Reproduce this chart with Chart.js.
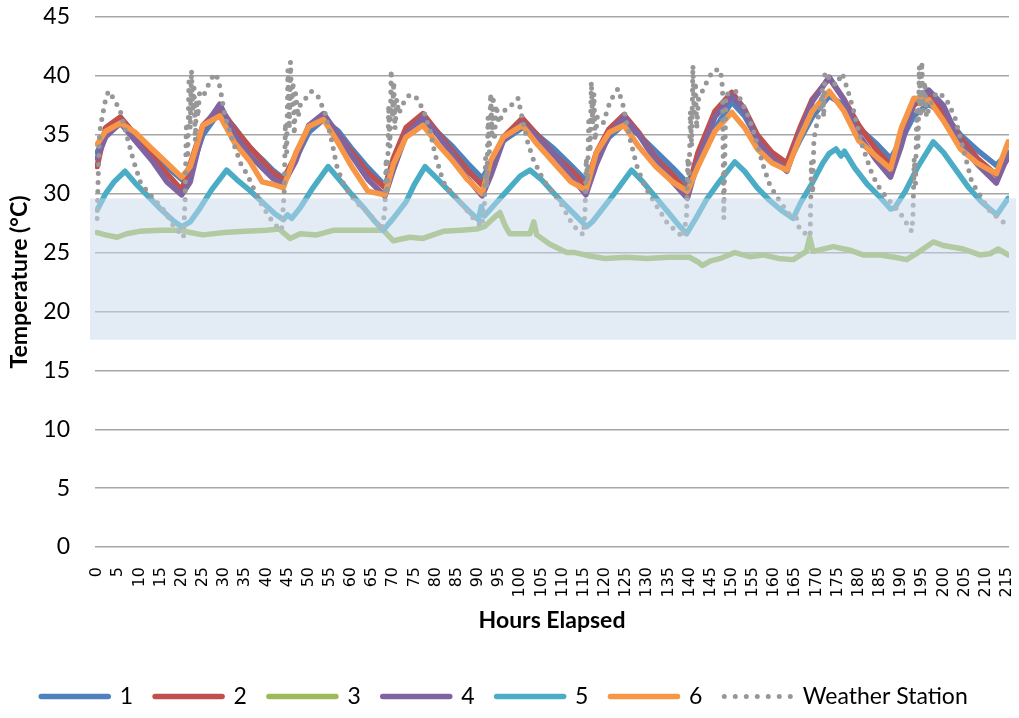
<!DOCTYPE html>
<html>
<head>
<meta charset="utf-8">
<script src="https://cdn.jsdelivr.net/npm/chart.js@4.4.0/dist/chart.umd.min.js"></script>
<style>
  html, body { margin: 0; padding: 0; background: #fff; }
</style>
</head>
<body>
<canvas id="tempChart" width="1019" height="718"></canvas>
<script>
// hours elapsed for sensors 1, 2, 4 and 6 (read at peaks, troughs and in between)
const hoursMain = [0, 2, 5.5, 9, 13, 16.5, 20, 22, 25, 29,
  32.5, 36, 39, 41.5, 44, 47, 50, 53.5, 57, 60,
  64, 68, 70, 73, 77, 80.5, 84, 87.5, 91, 93,
  96, 100.5, 104, 108, 112, 115.5, 118, 121, 124.5, 128,
  132, 136, 139.5, 142, 146, 150, 153, 156, 159.5, 163,
  166, 169, 173, 176.5, 180, 184, 187.5, 190, 193, 196.5,
  200, 204, 208, 212.5, 215.3];

const sensor1 = [33.5, 35.0, 36.0, 35.0, 33.6, 32.3, 31.2, 31.8, 35.0, 37.0,
  35.6, 33.9, 32.9, 32.0, 31.3, 33.0, 35.2, 36.3, 35.3, 33.9,
  32.2, 30.7, 32.4, 35.0, 36.3, 35.2, 34.0, 32.6, 31.3, 32.5,
  34.5, 35.6, 35.0, 33.8, 32.4, 31.1, 33.0, 34.8, 35.9, 35.0,
  33.6, 32.2, 30.9, 32.5, 35.5, 37.8, 36.6, 34.7, 33.4, 32.3,
  34.5, 36.5, 38.3, 37.5, 35.6, 34.3, 33.0, 34.5, 36.6, 37.6,
  36.8, 35.0, 33.7, 32.4, 33.5];

const sensor2 = [32.3, 35.6, 36.5, 35.0, 33.2, 31.7, 30.3, 32.5, 35.8, 37.3,
  35.5, 34.0, 32.8, 31.8, 31.2, 33.3, 35.7, 36.6, 35.0, 33.6,
  31.8, 30.5, 33.0, 35.6, 36.8, 35.2, 33.6, 32.0, 30.7, 32.3,
  34.8, 36.4, 35.0, 33.3, 32.0, 30.7, 33.5, 35.5, 36.7, 35.2,
  33.0, 31.6, 30.2, 33.5, 37.0, 38.6, 37.2, 35.0, 33.5, 32.6,
  35.5, 38.0, 39.8, 38.0, 35.8, 33.8, 32.4, 34.8, 37.5, 38.4,
  37.0, 34.8, 33.0, 31.6, 33.0];

const sensor4 = [33.0, 34.8, 36.0, 34.5, 32.8, 31.0, 29.9, 31.0, 35.5, 37.6,
  35.0, 33.3, 32.2, 31.3, 30.8, 32.8, 35.8, 36.8, 35.0, 33.3,
  31.2, 29.8, 32.0, 35.0, 36.5, 35.0, 33.3, 31.3, 29.8, 31.5,
  34.5, 36.0, 34.8, 33.3, 31.5, 29.9, 32.5, 35.0, 36.5, 35.0,
  32.8, 31.0, 29.6, 32.8, 36.5, 38.3, 37.0, 34.5, 33.0, 31.9,
  35.0, 37.8, 39.9, 38.0, 35.0, 32.9, 31.4, 34.0, 37.8, 38.8,
  37.5, 34.3, 32.5, 30.9, 33.3];

const sensor6 = [34.2, 35.3, 36.0, 35.2, 33.8, 32.6, 31.4, 32.3, 35.8, 36.6,
  34.3, 32.8, 31.0, 30.8, 30.5, 33.5, 35.7, 36.3, 34.3, 32.4,
  30.2, 29.9, 32.5, 34.8, 35.8, 34.2, 32.8, 31.2, 30.0, 32.8,
  34.8, 35.8, 34.2, 32.6, 31.0, 30.3, 33.5, 35.2, 35.8, 34.0,
  32.3, 31.0, 30.2, 32.3, 35.3, 36.9, 35.6, 33.8, 32.6, 32.0,
  34.7, 37.0, 38.7, 37.0, 34.5, 33.2, 32.1, 35.5, 38.1, 38.0,
  36.2, 33.8, 32.6, 31.7, 34.4];

const hours3 = [0, 2, 4.7, 7, 10, 15, 20, 22, 25, 30,
  35, 40, 43, 45.6, 48, 51.9, 56, 62, 67.6, 70,
  73.9, 77, 81.8, 86, 89.7, 91.5, 93.6, 95.2, 96.4, 97.5,
  100, 102.3, 103.2, 103.9, 107, 111, 113, 116.5, 120, 125,
  130, 135, 140, 142, 143, 145, 147.3, 150.7, 154.2, 157.4,
  161, 164.5, 167.6, 168.4, 169.2, 174, 177.9, 181, 185, 188.5,
  191.3, 194, 197.6, 200, 204.7, 208.6, 211, 213, 215.3];
const sensor3 = [26.7, 26.5, 26.3, 26.6, 26.8, 26.9, 26.9, 26.7, 26.5, 26.7,
  26.8, 26.9, 27.0, 26.2, 26.6, 26.5, 26.9, 26.9, 26.9, 26.0,
  26.3, 26.2, 26.8, 26.9, 27.0, 27.2, 27.9, 28.4, 27.3, 26.6,
  26.6, 26.6, 27.6, 26.5, 25.7, 25.0, 25.0, 24.7, 24.5, 24.6,
  24.5, 24.6, 24.6, 24.2, 23.9, 24.3, 24.5, 25.0, 24.65, 24.8,
  24.5, 24.4, 25.1, 26.3, 25.1, 25.5, 25.2, 24.8, 24.8, 24.6,
  24.4, 25.0, 25.9, 25.6, 25.3, 24.8, 24.9, 25.3, 24.8];

const hours5 = [0, 2, 4, 6.6, 9, 12, 15, 18, 20, 22,
  24, 27, 30.6, 33, 36, 39, 42, 44, 45, 46,
  48, 51, 54.6, 57, 60, 63, 65.5, 67.6, 70, 73,
  75, 77.5, 80, 83, 86, 88.5, 90.1, 90.8, 91.5, 94,
  97, 100, 102.3, 105, 108, 111, 113.5, 115.7, 117, 119,
  122, 126.3, 129, 132, 135, 137.5, 139.3, 141.5, 144, 147,
  150.7, 153, 156, 159, 162, 164.5, 166.2, 169, 171.5, 173,
  174.6, 175.8, 176.6, 179, 182, 185, 187.5, 188.5, 191, 194,
  197.6, 200, 203, 206, 209, 212.6, 215.3];
const sensor5 = [28.6, 30.0, 31.0, 31.9, 30.9, 29.8, 28.7, 27.7, 27.2, 27.6,
  28.6, 30.3, 32.0, 31.2, 30.3, 29.3, 28.3, 27.8, 28.2, 27.9,
  28.8, 30.5, 32.3, 31.3, 30.0, 28.8, 27.7, 26.9, 27.9, 29.3,
  30.8, 32.3, 31.4, 30.3, 29.2, 28.3, 27.8, 28.9, 28.1, 29.1,
  30.3, 31.5, 32.0, 31.2, 30.0, 28.9, 28.0, 27.2, 27.6, 28.5,
  29.9, 32.0, 31.0, 29.7, 28.4, 27.3, 26.6, 27.9, 29.5, 31.0,
  32.7, 31.9, 30.5, 29.4, 28.5, 27.9, 29.2, 30.9, 32.6, 33.4,
  33.8, 33.2, 33.6, 32.2, 30.8, 29.7, 28.7, 28.8, 30.2, 32.3,
  34.4, 33.5, 32.0, 30.5, 29.3, 28.2, 29.6];

const hoursStation = [0, 0.3, 0.6, 1.2, 2, 2.7, 3.5, 4.3, 5.4, 6.5,
  7.4, 8.6, 10.2, 12, 14.1, 16, 18, 19.5, 20.4,
  20.8, 21.1, 21.4, 21.7, 22, 22.3, 22.6, 22.9, 23.2, 23.5,
  23.8, 24.2, 25, 26, 27, 28, 28.7, 29.3, 30, 30.7,
  32, 33, 34, 35.5, 37.3, 39, 40.9, 42.5, 43.6,
  44.2, 44.5, 44.8, 45.1, 45.4, 45.7, 46, 46.3, 46.6, 46.9,
  47.5, 48, 48.8, 50, 50.8, 52.3, 53.9, 55.5, 56.6, 58,
  59.8, 62, 64.5, 66, 67.3,
  68, 68.3, 68.6, 68.9, 69.2, 69.5, 69.8, 70.1, 70.4, 70.8,
  71.3, 72.4, 73.5, 74.5, 75.5, 77.1, 78.7, 79.9, 81.8, 83.5,
  85.8, 88.9, 90.9,
  91.5, 91.8, 92.1, 92.4, 92.7, 93, 93.3, 93.6, 93.9, 94.3,
  95, 96, 97.5, 98.5, 99.5, 100.7, 101.8, 103.1, 105.4, 107.5,
  109.4, 112.5, 114.9,
  115.3, 115.6, 115.9, 116.2, 116.5, 116.8, 117.1, 117.4, 117.7, 118.2,
  119.6, 121.2, 122.3, 123.1, 124.3, 125.9, 127.5, 129, 130.6, 132.5,
  134.6, 136.5, 138.6,
  139.3, 139.6, 139.9, 140.2, 140.5, 140.8, 141.1, 141.4, 141.7, 142.1,
  143.3, 144.5, 145.7, 147.3, 147.8, 148.1, 148.6, 149.5, 151.1, 153.5,
  155, 157.4, 159, 161.4, 163.7, 165.3, 166, 167, 168.5,
  168.8, 169.1, 169.4, 170.2, 171, 171.4, 171.7, 172, 173, 174.6,
  176.1, 177.3, 178.9, 180.8, 183.2, 185, 187, 189.7, 192.5,
  192.8, 193.1, 193.4, 193.7, 194, 194.3, 194.6, 194.9, 195.2, 195.6,
  196, 196.8, 197.5, 198.4, 199.5, 200.7, 202.7, 204.7, 206.7, 208.6,
  211, 214.1, 215.3];
const station = [27.9, 32.0, 35.2, 36.5, 38.0, 38.7, 38.3, 37.8, 37.1, 35.6,
  34.4, 32.8, 31.0, 30.1, 29.3, 28.5, 27.3, 26.7, 26.3,
  29.5, 36.0, 33.0, 39.5, 35.5, 40.5, 37.0, 39.0, 34.5, 38.0,
  36.5, 38.5, 38.2, 39.0, 39.8, 40.2, 39.6, 38.5, 37.0, 36.0,
  34.5, 33.5, 32.5, 31.6, 30.2, 29.0, 27.9, 27.2, 26.9,
  30.0, 36.0, 33.5, 40.5, 35.5, 41.2, 37.5, 39.5, 35.0, 38.5,
  36.5, 37.5, 37.8, 38.5, 38.7, 38.2, 36.8, 34.4, 32.4, 31.0,
  29.9, 29.0, 28.2, 27.6, 27.0,
  28.5, 33.0, 30.0, 37.5, 34.0, 40.5, 36.5, 39.5, 35.5, 38.0,
  36.8, 37.7, 38.3, 38.4, 38.1, 37.1, 35.3, 33.3, 31.0, 30.2,
  29.3, 27.9, 27.2,
  28.8, 33.0, 30.5, 36.5, 33.5, 38.5, 35.0, 38.3, 34.5, 37.5,
  36.0, 37.0, 37.3, 37.8, 38.1, 36.0, 34.3, 32.9, 31.2, 30.2,
  29.3, 27.3, 26.5,
  28.5, 33.0, 31.0, 36.5, 33.5, 39.5, 36.0, 38.5, 34.5, 36.5,
  36.0, 37.8, 38.5, 38.9, 37.5, 34.7, 32.4, 31.0, 29.9, 28.8,
  27.6, 26.9, 26.3,
  28.2, 33.0, 31.0, 37.0, 34.0, 40.9, 36.5, 39.5, 35.5, 38.0,
  38.9, 39.8, 40.5, 40.5, 39.0, 27.9, 38.5, 38.4, 38.7, 36.9,
  35.5, 32.4, 30.7, 29.3, 28.2, 27.9, 27.0, 26.7, 26.4,
  32.7, 30.0, 34.7, 36.1, 37.5, 38.9, 36.5, 40.3, 39.8, 39.2,
  40.2, 38.9, 36.9, 34.1, 31.6, 30.4, 29.5, 28.4, 26.8,
  28.0, 33.0, 30.5, 37.0, 34.0, 40.8, 36.5, 41.2, 37.0, 39.5,
  36.5, 37.5, 38.0, 38.6, 38.4, 38.0, 36.5, 33.8, 31.0, 29.9,
  28.5, 27.6, 27.5];

// shaded comfort band (°C) and x tick labels
const bandRange = [17.6, 29.6];
const hourTicks = Array.from({ length: 44 }, (_, i) => i * 5);

const seriesColors = ['#4f81bd', '#c0504d', '#9bbb59', '#8064a2', '#4bacc6', '#f79646'];

function toPoints(xs, ys) {
  return xs.map((x, i) => ({ x: x, y: ys[i] }));
}

function sensorLine(label, xs, ys, color, order) {
  return {
    label: label,
    data: toPoints(xs, ys),
    borderColor: color,
    backgroundColor: color,
    borderWidth: 5.5,
    borderJoinStyle: 'round',
    borderCapStyle: 'round',
    pointRadius: 0,
    tension: 0,
    order: order
  };
}

// drop the extra room chart.js reserves for tick labels, so the plot fills the frame
function noScalePadding(scale) {
  scale.paddingTop = 0;
  scale.paddingBottom = 0;
  scale.paddingLeft = 0;
  scale.paddingRight = 0;
}

const comfortBand = {
  id: 'comfortBand',
  afterDatasetsDraw(chart) {
    const { ctx, chartArea, scales } = chart;
    const top = scales.y.getPixelForValue(bandRange[1]);
    const bottom = scales.y.getPixelForValue(bandRange[0]);
    ctx.save();
    ctx.fillStyle = 'rgba(200, 218, 236, 0.5)';
    ctx.fillRect(chartArea.left - 5, top, chartArea.right - chartArea.left + 12, bottom - top);
    ctx.restore();
  }
};

Chart.defaults.font.family = 'Lato';
Chart.defaults.color = '#000';

const ctx = document.getElementById('tempChart').getContext('2d');
new Chart(ctx, {
  type: 'line',
  data: {
    datasets: [
      sensorLine('1', hoursMain, sensor1, seriesColors[0], 6),
      sensorLine('2', hoursMain, sensor2, seriesColors[1], 5),
      sensorLine('3', hours3, sensor3, seriesColors[2], 4),
      sensorLine('4', hoursMain, sensor4, seriesColors[3], 3),
      sensorLine('5', hours5, sensor5, seriesColors[4], 2),
      sensorLine('6', hoursMain, sensor6, seriesColors[5], 1),
      {
        label: 'Weather Station',
        data: toPoints(hoursStation, station),
        borderColor: '#979797',
        backgroundColor: '#979797',
        borderWidth: 5,
        borderDash: [0, 9],
        borderCapStyle: 'round',
        pointRadius: 0,
        tension: 0,
        order: 0
      }
    ]
  },
  options: {
    responsive: false,
    animation: false,
    devicePixelRatio: 1,
    layout: { padding: { top: 17, right: 10, left: 0, bottom: 0 } },
    scales: {
      x: {
        type: 'linear',
        min: -0.5,
        max: 215.5,
        grid: { display: false },
        border: { display: false },
        afterBuildTicks: scale => {
          scale.ticks = hourTicks.map(v => ({ value: v }));
        },
        afterFit: scale => {
          scale.height = 116;
          noScalePadding(scale);
        },
        ticks: {
          autoSkip: false,
          minRotation: 90,
          maxRotation: 90,
          padding: 12,
          color: '#000',
          font: { family: 'DejaVu Sans', size: 16 }
        },
        title: {
          display: true,
          text: 'Hours Elapsed',
          color: '#000',
          font: { size: 23, weight: 'bold' },
          padding: { top: 0, bottom: 29 }
        }
      },
      y: {
        min: 0,
        max: 45,
        grid: { color: '#a6a6a6', lineWidth: 1.4, drawTicks: false },
        border: { display: false },
        afterFit: scale => {
          scale.width = 95;
          noScalePadding(scale);
        },
        ticks: {
          stepSize: 5,
          padding: 25,
          color: '#000',
          font: { size: 23 }
        },
        title: {
          display: true,
          text: 'Temperature (°C)',
          color: '#000',
          font: { size: 23, weight: 'bold' },
          padding: { top: 6, bottom: 0 }
        }
      }
    },
    plugins: {
      tooltip: { enabled: false },
      legend: {
        position: 'bottom',
        labels: {
          usePointStyle: true,
          pointStyleWidth: 67,
          padding: 22,
          color: '#000',
          font: { size: 23 },
          generateLabels: chart => chart.data.datasets.map((ds, i) => ({
            text: ds.label,
            fillStyle: ds.borderColor,
            strokeStyle: ds.borderColor,
            lineWidth: ds.borderWidth,
            lineCap: 'round',
            lineDash: ds.borderDash ? [0, 11] : [],
            pointStyle: 'line',
            fontColor: '#000',
            hidden: false,
            datasetIndex: i
          }))
        }
      }
    }
  },
  plugins: [comfortBand]
});
</script>
</body>
</html>
